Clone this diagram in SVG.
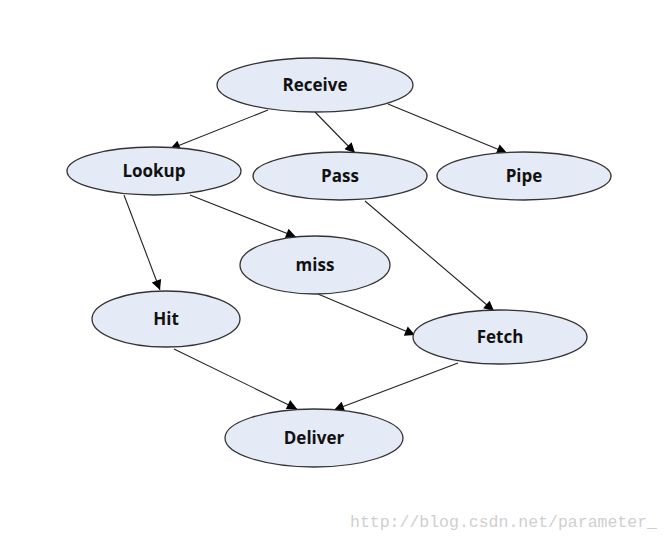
<svg xmlns="http://www.w3.org/2000/svg" width="672" height="541" viewBox="0 0 672 541">
<defs>
<marker id="arr" viewBox="0 0 10 10" refX="10" refY="5" markerWidth="13" markerHeight="10" markerUnits="userSpaceOnUse" orient="auto">
<path d="M0,0 L10,5 L0,10 z" fill="#000"/>
</marker>
<style>
.n ellipse{fill:#e5ebf6;stroke:#333;stroke-width:1.3}
.n text{font-family:"Open Sans","Liberation Sans",sans-serif;font-weight:bold;font-size:17px;fill:#111;text-anchor:middle;dominant-baseline:central}
.e line{stroke:#222;stroke-width:1.1;marker-end:url(#arr)}
.wm{font-family:"Liberation Mono",monospace;font-size:16.5px;fill:#cfcfcf}
</style>
</defs>
<rect width="672" height="541" fill="#fff"/>
<g id="edges" class="e">
<line x1="268" y1="110" x2="170" y2="149"/>
<line x1="315" y1="112" x2="355" y2="153"/>
<line x1="388" y1="104" x2="507" y2="153"/>
<line x1="124" y1="195" x2="160" y2="290"/>
<line x1="190" y1="195" x2="296" y2="237"/>
<line x1="365" y1="201" x2="494" y2="311"/>
<line x1="318" y1="294" x2="415" y2="335"/>
<line x1="174" y1="349" x2="297" y2="409"/>
<line x1="458" y1="363" x2="334" y2="410"/>
</g>
<g id="receive" class="n"><ellipse cx="315" cy="85" rx="98" ry="27"/><text x="315" y="84">Receive</text></g>
<g id="lookup" class="n"><ellipse cx="154" cy="171" rx="87" ry="24"/><text x="154" y="170">Lookup</text></g>
<g id="pass" class="n"><ellipse cx="340" cy="176" rx="87" ry="24"/><text x="340" y="175">Pass</text></g>
<g id="pipe" class="n"><ellipse cx="524" cy="176" rx="87" ry="24"/><text x="524" y="175">Pipe</text></g>
<g id="miss" class="n"><ellipse cx="315" cy="265" rx="75" ry="29"/><text x="315" y="264">miss</text></g>
<g id="hit" class="n"><ellipse cx="166" cy="319" rx="74" ry="28"/><text x="166" y="318">Hit</text></g>
<g id="fetch" class="n"><ellipse cx="500" cy="337" rx="87" ry="27"/><text x="500" y="336">Fetch</text></g>
<g id="deliver" class="n"><ellipse cx="314" cy="438" rx="89" ry="29"/><text x="314" y="437">Deliver</text></g>
<text class="wm" x="350" y="527">http://blog.csdn.net/parameter_</text>
</svg>
